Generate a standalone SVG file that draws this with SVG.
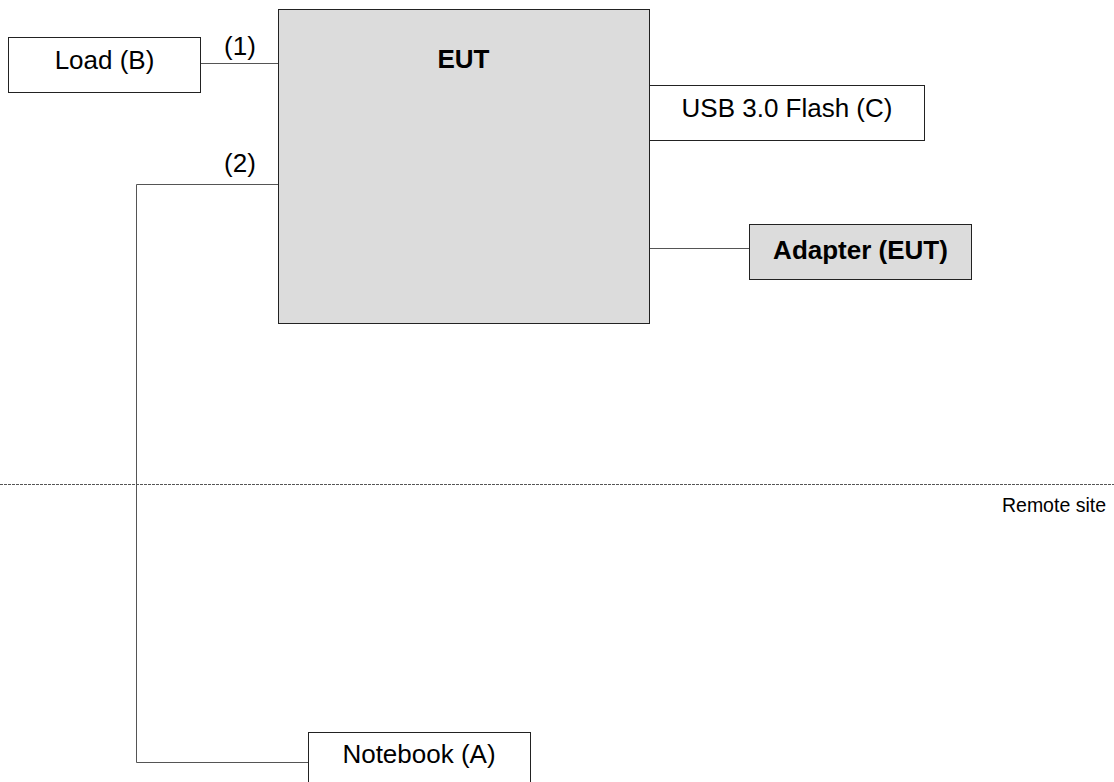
<svg xmlns="http://www.w3.org/2000/svg" width="1114" height="782" viewBox="0 0 1114 782">
<style>
.box{fill:#fff;stroke:#222;stroke-width:1}
.gray{fill:#dcdcdc;stroke:#222;stroke-width:1}
.t{font-family:"Liberation Sans",Arial,sans-serif;font-size:26px;fill:#000;text-anchor:middle}
.b{font-weight:bold}
.c{fill:none;stroke:#555;stroke-width:1}
</style>
<rect width="1114" height="782" fill="#fff"/>
<g id="connectors">
<line class="c" x1="200.5" y1="63.5" x2="278.5" y2="63.5"/>
<polyline class="c" points="278.5,184.5 136.5,184.5 136.5,762.5 308.5,762.5"/>
<line class="c" x1="649.5" y1="248.5" x2="749.5" y2="248.5"/>
<text class="t" x="240" y="55">(1)</text>
<text class="t" x="240" y="172">(2)</text>
</g>
<g id="separator">
<line x1="0" y1="484.5" x2="1114" y2="484.5" stroke="#555" stroke-width="1" stroke-dasharray="3 1"/>
<text x="1106" y="512" font-family="Liberation Sans,Arial,sans-serif" font-size="19.5" text-anchor="end" fill="#000">Remote site</text>
</g>
<g id="eut">
<rect class="gray" x="278.5" y="9.5" width="371" height="314"/>
<text class="t b" x="463.5" y="68">EUT</text>
</g>
<g id="load">
<rect class="box" x="8.5" y="37.5" width="192" height="55"/>
<text class="t" x="104.5" y="69">Load (B)</text>
</g>
<g id="usb">
<rect class="box" x="649.5" y="85.5" width="275" height="55"/>
<text class="t" x="787" y="117">USB 3.0 Flash (C)</text>
</g>
<g id="adapter">
<rect class="gray" x="749.5" y="224.5" width="222" height="55"/>
<text class="t b" x="860.5" y="259">Adapter (EUT)</text>
</g>
<g id="notebook">
<rect class="box" x="308.5" y="732.5" width="222" height="60"/>
<text class="t" x="419" y="763">Notebook (A)</text>
</g>
</svg>
